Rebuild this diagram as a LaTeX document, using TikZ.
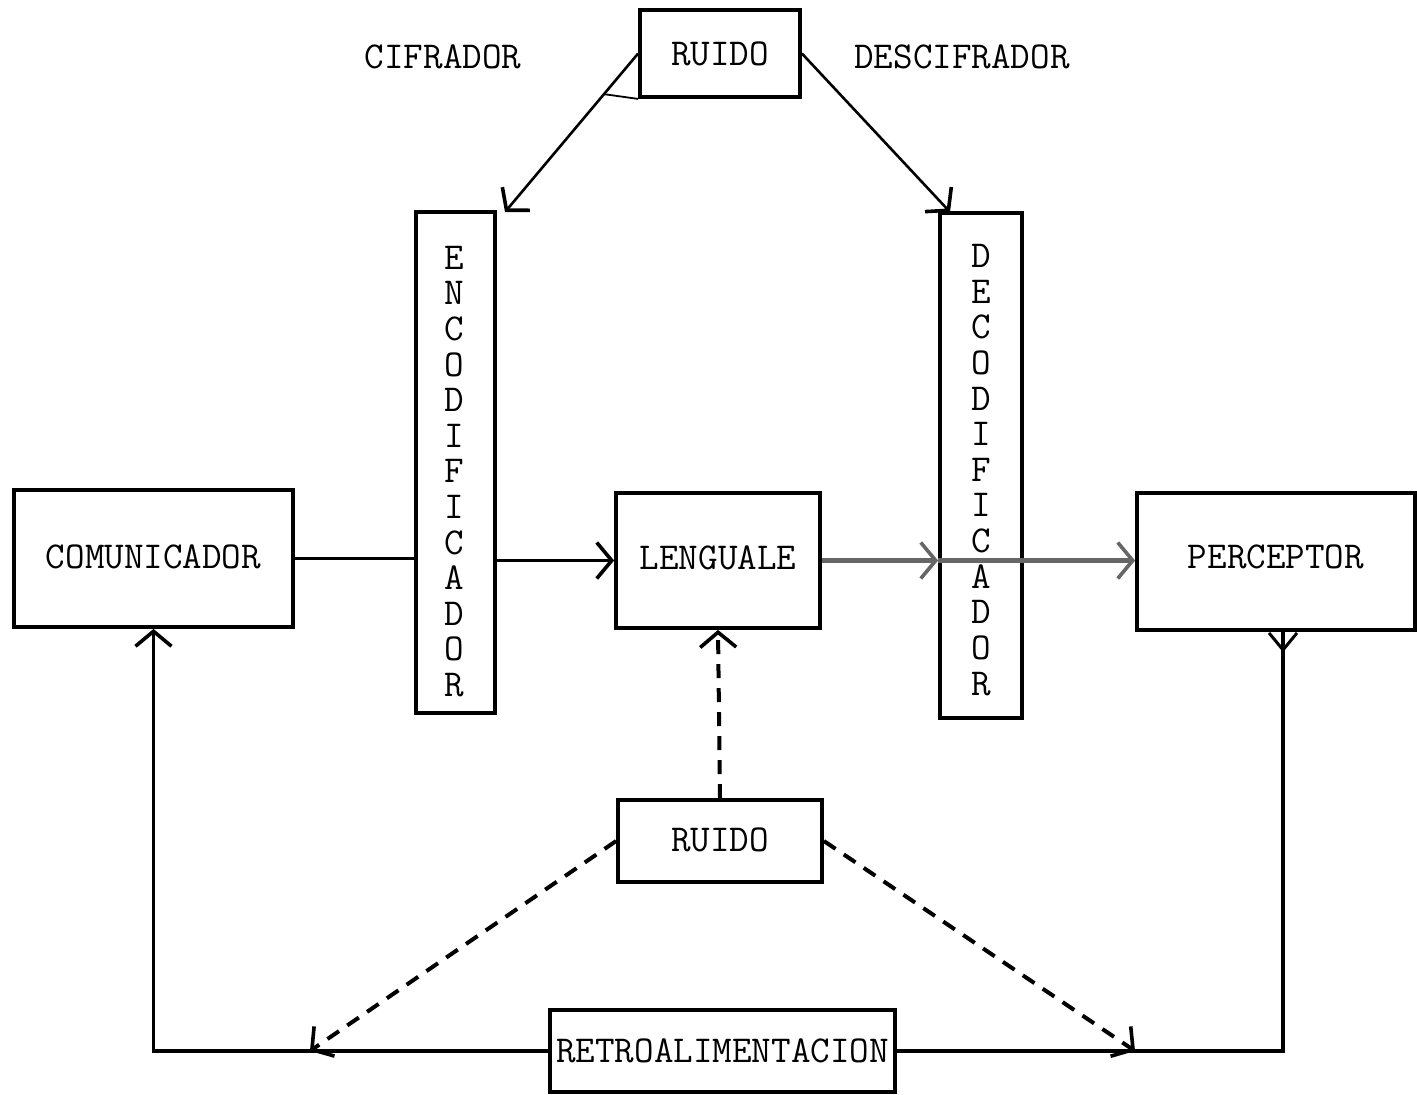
\documentclass[tikz,border=0pt]{standalone}
\usetikzlibrary{arrows.meta,calc}
\begin{document}
\begin{tikzpicture}[x=0.5pt,y=-0.5pt,
  txt/.style={font={\fontsize{19}{21}\selectfont\ttfamily}, inner sep=0pt},
  box/.style={draw, line width=1.9pt, txt, align=center},
  vtext/.style={inner sep=0pt, align=center, font={\fontsize{19}{17.8}\selectfont\ttfamily}},
  tip/.style={-{Straight Barb[length=7.5pt,width=18pt,line width=1.8pt]}},
  conn/.style={line width=1.8pt},
  dsh/.style={line width=2pt, dash pattern=on 7pt off 5pt}]
\useasboundingbox (0,0) rectangle (1417,1094);

% boxes
\node[box, minimum width=80pt, minimum height=43.5pt] (ruidoT) at (720,53.5) {\raisebox{-1.75pt}{RUIDO}};
\node[box, minimum width=39.5pt, minimum height=250.5pt] (enc) at (455.5,462.5) {};
\node[vtext] (enctxt) at (454,471.5) {E\\N\\C\\O\\D\\I\\F\\I\\C\\A\\D\\O\\R};
\node[box, minimum width=41pt, minimum height=252.5pt] (dec) at (981,465.5) {};
\node[vtext] (dectxt) at (981,470) {D\\E\\C\\O\\D\\I\\F\\I\\C\\A\\D\\O\\R};
\node[box, minimum width=139.5pt, minimum height=68.5pt] (com) at (153.5,558.5) {\raisebox{2.25pt}{COMUNICADOR}};
\node[box, minimum width=102pt, minimum height=67.5pt] (len) at (718,560.5) {\raisebox{3.25pt}{LENGUALE}};
\node[box, minimum width=139pt, minimum height=68.5pt] (per) at (1276,561.5) {\raisebox{4.75pt}{PERCEPTOR}};
\node[box, minimum width=102pt, minimum height=41pt] (ruidoB) at (720,841) {\raisebox{1.5pt}{RUIDO}};
\node[box, minimum width=172.5pt, minimum height=41pt] (retro) at (722.5,1051) {\raisebox{-2pt}{RETROALIMENTACION}};

% labels
\node[txt] (cif) at (443,57) {CIFRADOR};
\node[txt] (descif) at (962,57) {DESCIFRADOR};

% coordinates
\coordinate (encTip) at (505,212);
\coordinate (decTip) at (950,212);
\coordinate (leftTip) at (310,1051);
\coordinate (rightTip) at (1135,1051);
\coordinate (tick) at (603,94);
\coordinate (perOut) at ($(per.south)+(7,0)$);

% top noise arrows
\draw[line width=1.3pt, tip] (ruidoT.west) -- (encTip);
\draw[line width=1.3pt, tip] (ruidoT.east) -- (decTip);
\draw[line width=0.9pt] (tick) -- (ruidoT.south west);

% main flow
\draw[conn] (com.east) -- (enc.west |- com.east);
\draw[conn, tip] (enc.east |- len.west) -- (len.west);
\draw[line width=2.6pt, color=black!60, tip] (len.east) -- (dec.west |- len.east);
\draw[line width=2.6pt, color=black!60, tip] (dec.west |- len.east) -- (per.west |- len.east);

% feedback loop
\draw[conn] (perOut) -- (perOut |- retro.east) -- (retro.east);
\draw[line width=1.5pt] ($(perOut)+(-14,1)$) -- ($(perOut)+(0,18)$) -- ($(perOut)+(14,1)$);
\draw[conn, tip] (retro.west) -- (com.south |- retro.west) -- (com.south);

% dashed noise
\draw[dsh, tip] (ruidoB.north) -- (len.south);
\draw[dsh, tip] (ruidoB.west) -- (leftTip);
\draw[dsh, tip] (ruidoB.east) -- (rightTip);
\end{tikzpicture}
\end{document}
